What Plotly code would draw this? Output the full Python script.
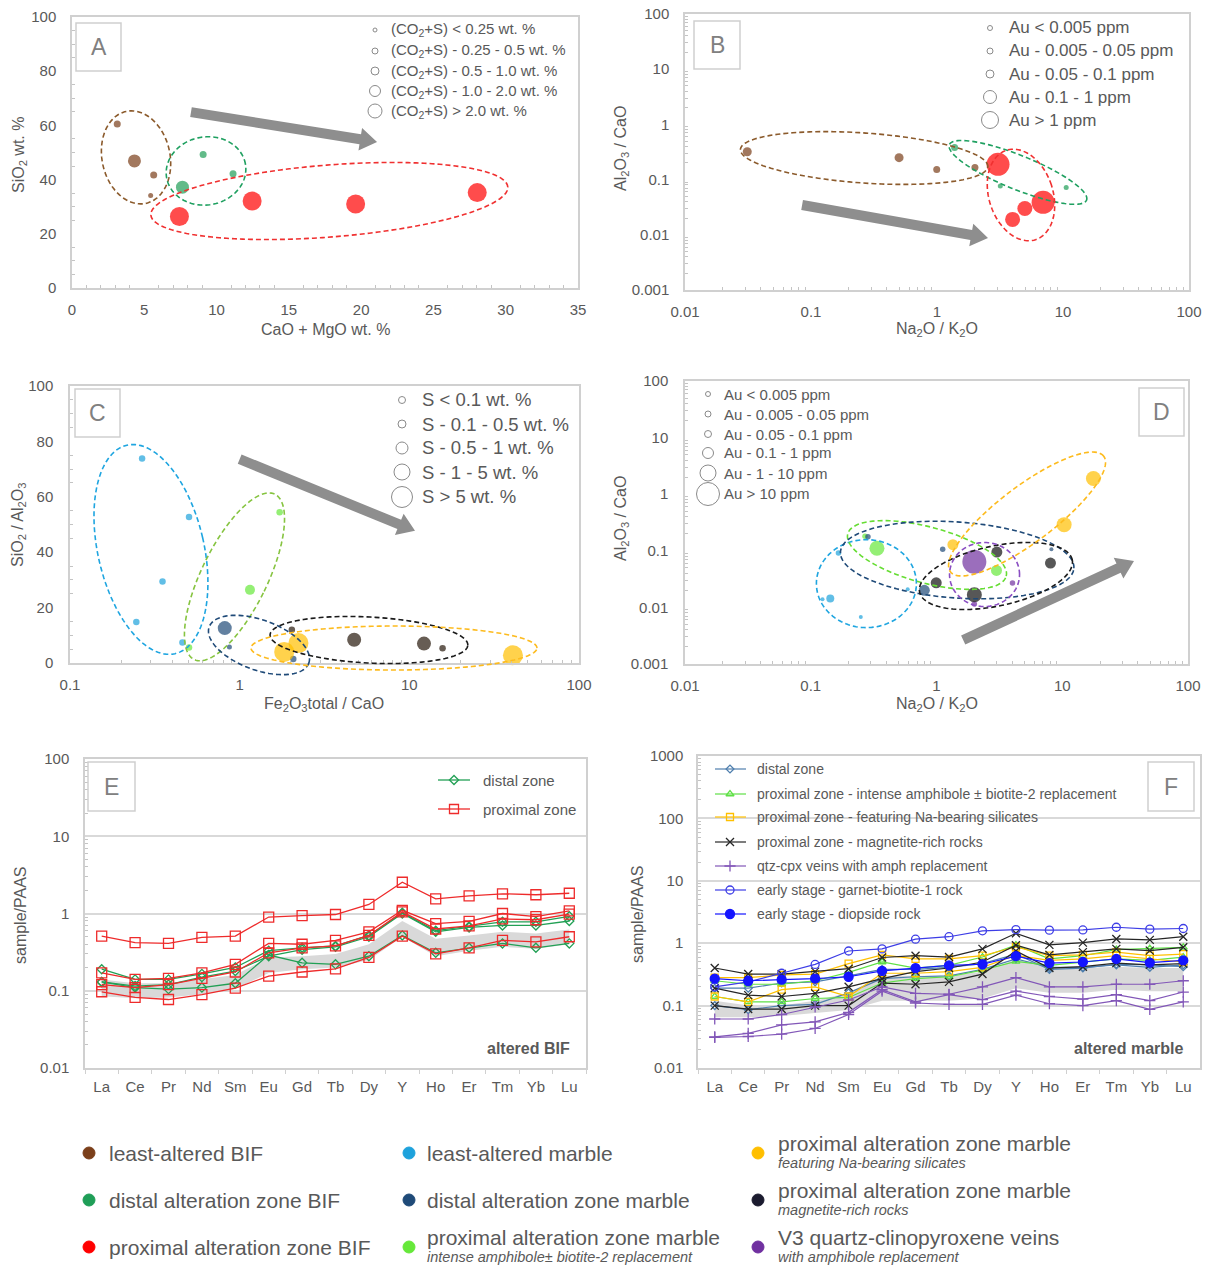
import math
import plotly.graph_objects as go

W, H = 1211, 1265
FONT = "Liberation Sans, Arial, sans-serif"
TXT = "#595959"
FRAME = "#d0d0d0"

# ---------------------------------------------------------------- data
REE = ["La", "Ce", "Pr", "Nd", "Sm", "Eu", "Gd", "Tb", "Dy", "Y", "Ho", "Er", "Tm", "Yb", "Lu"]

# A: CaO + MgO vs SiO2 (BIF); class = (CO2+S) bin 1..5
A_X = [3.13, 4.32, 5.65, 5.44, 9.07, 11.14, 7.64, 7.43, 12.46, 19.62, 28.03]
A_Y = [60.5, 46.9, 41.7, 34.1, 49.3, 42.2, 37.2, 26.4, 32.1, 31.0, 35.2]
A_CLASS = [2, 4, 2, 1, 2, 2, 4, 5, 5, 5, 5]
A_GROUP = ["lab", "lab", "lab", "lab", "dab", "dab", "dab", "pab", "pab", "pab", "pab"]

# B: Na2O/K2O vs Al2O3/CaO (BIF); class = Au bin 1..5
B_X = [0.0312, 0.50, 0.995, 2.0, 1.38, 3.18, 10.6, 3.05, 6.95, 4.98, 3.98]
B_Y = [0.32, 0.25, 0.153, 0.165, 0.38, 0.0766, 0.072, 0.189, 0.0387, 0.030, 0.019]
B_CLASS = [3, 3, 2, 2, 2, 1, 1, 5, 5, 4, 4]
B_GROUP = ["lab", "lab", "lab", "lab", "dab", "dab", "dab", "pab", "pab", "pab", "pab"]

# C: Fe2O3total/CaO vs SiO2/Al2O3 (marble); class = S bin 1..5
C_X = [0.266, 0.503, 0.351, 0.246, 0.46, 1.72, 1.15, 0.503, 0.817, 0.87, 2.07,
       1.83, 2.22, 40.8, 2.03, 4.73, 12.2, 15.7]
C_Y = [73.8, 52.7, 29.4, 14.8, 7.4, 54.4, 26.4, 5.6, 12.6, 5.8, 1.4,
       4.0, 7.2, 2.8, 12.0, 8.4, 7.0, 5.3]
C_CLASS = [2, 2, 2, 2, 2, 2, 3, 2, 4, 1, 2, 5, 5, 5, 2, 4, 4, 2]
C_GROUP = ["lam"] * 5 + ["pai"] * 3 + ["dam"] * 3 + ["pna"] * 3 + ["pmr"] * 4

# D: Na2O/K2O vs Al2O3/CaO (marble); class = Au bin 1..6
D_X = [0.143, 0.124, 0.166, 0.25, 0.59, 0.336, 3.0, 0.27, 0.285, 1.12, 0.8, 8.2,
       1.35, 10.35, 17.7, 2.0, 4.02, 2.0, 3.02, 8.06, 0.995, 2.0]
D_Y = [0.0144, 0.014, 0.091, 0.0068, 0.021, 0.111, 0.045, 0.18, 0.177, 0.107, 0.020, 0.107,
       0.128, 0.29, 1.89, 0.064, 0.027, 0.0115, 0.095, 0.0606, 0.0272, 0.0167]
D_CLASS = [3, 1, 2, 1, 1, 5, 4, 2, 2, 2, 4, 1, 4, 5, 5, 6, 2, 2, 4, 4, 4, 5]
D_GROUP = ["lam"] * 5 + ["pai"] * 3 + ["dam"] * 4 + ["pna"] * 3 + ["v3"] * 3 + ["pmr"] * 4

# E: PAAS-normalised REE+Y, altered BIF
E_PROXIMAL = [
    [0.51, 0.42, 0.41, 0.49, 0.51, 0.90, 0.94, 0.97, 1.31, 2.54, 1.55, 1.69, 1.80, 1.75, 1.83],
    [0.17, 0.14, 0.145, 0.17, 0.22, 0.41, 0.40, 0.45, 0.58, 1.10, 0.74, 0.79, 1.00, 0.91, 1.08],
    [0.12, 0.11, 0.12, 0.145, 0.175, 0.31, 0.36, 0.38, 0.52, 1.05, 0.63, 0.69, 0.85, 0.83, 0.98],
    [0.097, 0.082, 0.077, 0.089, 0.108, 0.155, 0.175, 0.192, 0.27, 0.51, 0.30, 0.36, 0.45, 0.43, 0.50],
]
E_DISTAL = [
    [0.19, 0.14, 0.14, 0.165, 0.20, 0.33, 0.36, 0.38, 0.52, 1.02, 0.60, 0.68, 0.78, 0.78, 0.92],
    [0.13, 0.11, 0.105, 0.11, 0.125, 0.29, 0.23, 0.22, 0.28, 0.52, 0.31, 0.36, 0.41, 0.36, 0.41],
    [0.13, 0.115, 0.12, 0.15, 0.18, 0.28, 0.34, 0.37, 0.50, 1.00, 0.58, 0.66, 0.70, 0.70, 0.80],
]
E_BAND_LO = [0.085, 0.08, 0.082, 0.09, 0.105, 0.17, 0.19, 0.2, 0.25, 0.50, 0.28, 0.33, 0.37, 0.35, 0.40]
E_BAND_HI = [0.14, 0.125, 0.125, 0.14, 0.16, 0.27, 0.28, 0.30, 0.40, 0.80, 0.47, 0.52, 0.58, 0.55, 0.62]

# F: PAAS-normalised REE+Y, altered marble
F_DISTAL = [
    [0.19, 0.19, 0.23, 0.24, 0.30, 0.38, 0.38, 0.41, 0.47, 0.67, 0.38, 0.40, 0.46, 0.45, 0.42],
    [0.10, 0.086, 0.10, 0.105, 0.16, 0.27, 0.29, 0.30, 0.38, 0.56, 0.41, 0.41, 0.45, 0.41, 0.45],
]
F_AMPH = [
    [0.25, 0.22, 0.22, 0.25, 0.34, 0.50, 0.40, 0.44, 0.60, 0.93, 0.56, 0.63, 0.79, 0.82, 0.86],
    [0.14, 0.115, 0.115, 0.13, 0.135, 0.23, 0.27, 0.29, 0.37, 0.51, 0.44, 0.50, 0.56, 0.53, 0.60],
]
F_NA = [
    [0.28, 0.28, 0.31, 0.32, 0.47, 0.65, 0.56, 0.56, 0.63, 0.87, 0.63, 0.65, 0.72, 0.63, 0.67],
    [0.14, 0.115, 0.18, 0.20, 0.14, 0.33, 0.33, 0.35, 0.41, 0.64, 0.53, 0.56, 0.63, 0.56, 0.50],
]
F_MAGNETITE = [
    [0.40, 0.32, 0.32, 0.35, 0.39, 0.59, 0.63, 0.60, 0.81, 1.44, 0.94, 1.02, 1.17, 1.13, 1.27],
    [0.19, 0.147, 0.14, 0.157, 0.20, 0.27, 0.35, 0.40, 0.50, 0.93, 0.65, 0.72, 0.81, 0.76, 0.86],
    [0.10, 0.088, 0.088, 0.10, 0.10, 0.23, 0.22, 0.24, 0.32, 0.75, 0.40, 0.42, 0.48, 0.45, 0.47],
]
F_VEINS = [
    [0.061, 0.061, 0.072, 0.095, 0.123, 0.20, 0.157, 0.152, 0.20, 0.28, 0.20, 0.20, 0.22, 0.22, 0.25],
    [0.0316, 0.036, 0.049, 0.055, 0.078, 0.18, 0.115, 0.15, 0.125, 0.17, 0.14, 0.127, 0.15, 0.12, 0.165],
    [0.031, 0.032, 0.035, 0.043, 0.072, 0.17, 0.11, 0.105, 0.105, 0.147, 0.107, 0.10, 0.12, 0.087, 0.115],
]
F_GARNET = [0.20, 0.24, 0.33, 0.457, 0.75, 0.81, 1.16, 1.27, 1.58, 1.65, 1.62, 1.63, 1.80, 1.68, 1.72]
F_DIOPSIDE = [0.27, 0.25, 0.26, 0.27, 0.29, 0.36, 0.40, 0.44, 0.46, 0.62, 0.48, 0.50, 0.56, 0.49, 0.53]
F_BAND_LO = [0.065, 0.065, 0.068, 0.075, 0.085, 0.12, 0.12, 0.12, 0.13, 0.19, 0.16, 0.16, 0.18, 0.17, 0.17]
F_BAND_HI = [0.12, 0.10, 0.10, 0.12, 0.16, 0.30, 0.30, 0.30, 0.35, 0.55, 0.40, 0.40, 0.42, 0.40, 0.40]

# size-class legends
A_SIZE_LABELS = ["(CO<sub>2</sub>+S) &lt; 0.25 wt. %", "(CO<sub>2</sub>+S) - 0.25 - 0.5 wt. %",
                 "(CO<sub>2</sub>+S) - 0.5 - 1.0 wt. %", "(CO<sub>2</sub>+S) - 1.0 - 2.0 wt. %",
                 "(CO<sub>2</sub>+S) &gt; 2.0 wt. %"]
B_SIZE_LABELS = ["Au &lt; 0.005 ppm", "Au - 0.005 - 0.05 ppm", "Au - 0.05 - 0.1 ppm",
                 "Au - 0.1 - 1 ppm", "Au &gt; 1 ppm"]
C_SIZE_LABELS = ["S &lt; 0.1 wt. %", "S - 0.1 - 0.5 wt. %", "S - 0.5 - 1 wt. %",
                 "S - 1 - 5 wt. %", "S &gt; 5 wt. %"]
D_SIZE_LABELS = ["Au &lt; 0.005 ppm", "Au - 0.005 - 0.05 ppm", "Au - 0.05 - 0.1 ppm",
                 "Au - 0.1 - 1 ppm", "Au - 1 - 10 ppm", "Au &gt; 10 ppm"]

GROUP_NAME = {
    "lab": ("least-altered BIF", ""),
    "dab": ("distal alteration zone BIF", ""),
    "pab": ("proximal alteration zone BIF", ""),
    "lam": ("least-altered marble", ""),
    "dam": ("distal alteration zone marble", ""),
    "pai": ("proximal alteration zone marble", "intense amphibole\u00b1 biotite-2 replacement"),
    "pna": ("proximal alteration zone marble", "featuring Na-bearing silicates"),
    "pmr": ("proximal alteration zone marble", "magnetite-rich rocks"),
    "v3": ("V3 quartz-clinopyroxene veins", "with amphibole replacement"),
}

# ---------------------------------------------------------------- styles
COLOR = {
    "lab": "#7b3f1a", "dab": "#1f9e57", "pab": "#ff0000",
    "lam": "#1ea2dc", "dam": "#1f4a78", "pai": "#66e83a",
    "pna": "#ffbf00", "pmr": "#1b1b2f", "v3": "#7030a0",
}
C_PMR_COLOR = "#26180c"
SIZE_A = {1: 5, 2: 7, 3: 10, 4: 13, 5: 19}
SIZE_B = {1: 5, 2: 7, 3: 9, 4: 15, 5: 23}
SIZE_C = {1: 5, 2: 6.5, 3: 10, 4: 14, 5: 20}
SIZE_D = {1: 4, 2: 5.5, 3: 8, 4: 11, 5: 15, 6: 24}

BOX = {
    "A": (72, 17, 578, 288),
    "B": (685, 14, 1189, 290),
    "C": (70, 386, 579, 663),
    "D": (685, 381, 1188, 664),
    "E": (85, 759, 586, 1068),
    "F": (698, 756, 1200, 1068),
}
AX = {"A": ("x", "y"), "B": ("x2", "y2"), "C": ("x3", "y3"),
      "D": ("x4", "y4"), "E": ("x5", "y5"), "F": ("x6", "y6")}
XR = {"A": (0, 35), "B": (-2, 2), "C": (-1, 2), "D": (-2, 2)}
YR = {"A": (0, 100), "B": (-3, 2), "C": (0, 100), "D": (-3, 2)}
XLOG = {"A": False, "B": True, "C": True, "D": True}
YLOG = {"A": False, "B": True, "C": False, "D": True}


def px(p, x, y):
    """Data coordinates of panel p -> figure pixels."""
    L, T, R, B = BOX[p]
    xv = math.log10(x) if XLOG[p] else x
    yv = math.log10(y) if YLOG[p] else y
    x0, x1 = XR[p]
    y0, y1 = YR[p]
    return L + (xv - x0) / (x1 - x0) * (R - L), B - (yv - y0) / (y1 - y0) * (B - T)


def pap(x, y):
    return x / W, 1 - y / H


def domain(p):
    L, T, R, B = BOX[p]
    return [L / W, R / W], [1 - B / H, 1 - T / H]


fig = go.Figure()
shapes = []
annotations = []


def text(x, y, s, size, color=TXT, xanchor="left", yanchor="middle", angle=0, **font):
    xp, yp = pap(x, y)
    annotations.append(dict(x=xp, y=yp, xref="paper", yref="paper", text=s, showarrow=False,
                            xanchor=xanchor, yanchor=yanchor, textangle=angle,
                            font=dict(family=FONT, size=size, color=color, **font)))


def ellipse(p, center, rx, ry, rot, color):
    cx, cy = px(p, *center)
    a = math.radians(rot)
    pts = []
    for i in range(120):
        t = 2 * math.pi * i / 120
        ex, ey = rx * math.cos(t), ry * math.sin(t)
        X = cx + ex * math.cos(a) - ey * math.sin(a)
        Y = cy - (ex * math.sin(a) + ey * math.cos(a))
        pts.append(pap(X, Y))
    path = "M " + " L ".join(f"{u:.5f},{v:.5f}" for u, v in pts) + " Z"
    shapes.append(dict(type="path", path=path, xref="paper", yref="paper", layer="above",
                       line=dict(color=color, width=1.6, dash="5px,3px")))


def arrow(p, start, end, color="#8e8e8e"):
    sx, sy = px(p, *start)
    ex, ey = px(p, *end)
    L = math.hypot(ex - sx, ey - sy)
    ux, uy = (ex - sx) / L, (ey - sy) / L
    nx, ny = -uy, ux
    w, hw, hl = 5, 11.5, 17
    hx, hy = ex - ux * hl, ey - uy * hl
    poly = [(sx + nx * w, sy + ny * w), (hx + nx * w, hy + ny * w), (hx + nx * hw, hy + ny * hw),
            (ex, ey), (hx - nx * hw, hy - ny * hw), (hx - nx * w, hy - ny * w),
            (sx - nx * w, sy - ny * w)]
    path = "M " + " L ".join("{:.5f},{:.5f}".format(*pap(a, b)) for a, b in poly) + " Z"
    shapes.append(dict(type="path", path=path, xref="paper", yref="paper", layer="above",
                       fillcolor=color, line=dict(width=0)))


def panel_tag(x0, y0, x1, y1, letter):
    a, b = pap(x0, y0)
    c, d = pap(x1, y1)
    shapes.append(dict(type="rect", x0=a, y0=b, x1=c, y1=d, xref="paper", yref="paper",
                       layer="above", fillcolor="white", line=dict(color="#cfcfcf", width=1.5)))
    text((x0 + x1) / 2, (y0 + y1) / 2, letter, 23, color="#808080", xanchor="center")


def scatter_panel(p, xs, ys, classes, groups, sizes, order, override=None):
    xa, ya = AX[p]
    for g in order:
        idx = [i for i, gg in enumerate(groups) if gg == g]
        col = (override or {}).get(g, COLOR[g])
        fig.add_trace(go.Scatter(
            x=[xs[i] for i in idx], y=[ys[i] for i in idx], mode="markers",
            marker=dict(size=[sizes[classes[i]] for i in idx], color=col, line=dict(width=0)),
            xaxis=xa, yaxis=ya, cliponaxis=False, showlegend=False,
            name=GROUP_NAME[g][0], hoverinfo="x+y+name"))


def overlay_marker(x, y, symbol, size, color, fill=None, lw=1.0):
    fig.add_trace(go.Scatter(
        x=[x], y=[y], mode="markers", xaxis="x7", yaxis="y7", cliponaxis=False,
        showlegend=False, hoverinfo="skip",
        marker=dict(symbol=symbol, size=size, color=fill or color,
                    line=dict(color=color, width=lw))))


def overlay_line(x0, x1, y, color, width=1.3):
    fig.add_trace(go.Scatter(x=[x0, x1], y=[y, y], mode="lines", xaxis="x7", yaxis="y7",
                             showlegend=False, hoverinfo="skip",
                             line=dict(color=color, width=width)))


def size_legend(cx, tx, rows, sizes, labels, fsize):
    for y, s, lab in zip(rows, sizes, labels):
        overlay_marker(cx, y, "circle-open", s, "#8a8a8a", lw=1)
        text(tx, y, lab, fsize)


# ---------------------------------------------------------------- panels A-D
scatter_panel("A", A_X, A_Y, A_CLASS, A_GROUP, SIZE_A, ["lab", "dab", "pab"])
scatter_panel("B", B_X, B_Y, B_CLASS, B_GROUP, SIZE_B, ["lab", "dab", "pab"])
scatter_panel("C", C_X, C_Y, C_CLASS, C_GROUP, SIZE_C, ["lam", "pai", "dam", "pna", "pmr"],
              override={"pmr": C_PMR_COLOR})
scatter_panel("D", D_X, D_Y, D_CLASS, D_GROUP, SIZE_D, ["lam", "pai", "dam", "pna", "v3", "pmr"],
              override={"pmr": "#101010"})

# group envelopes: (centre in data units, semi-axes in px, rotation deg, colour)
ENV_BROWN, ENV_GREEN, ENV_RED = "#8b5a2b", "#1fa060", "#f03030"
ENV_BLUE, ENV_NAVY, ENV_BLACK = "#1ea5e0", "#1f4a78", "#1a1a1a"
ENV_ORANGE, ENV_PURPLE = "#fdbb1e", "#8a4ec2"
for c, rx, ry, rot, col in [((4.43, 48.2), 34, 47, 12, ENV_BROWN),
                            ((9.27, 43.2), 40, 34, 10, ENV_GREEN),
                            ((17.8, 32.1), 179, 36, 4.5, ENV_RED)]:
    ellipse("A", c, rx, ry, rot, col)
for c, rx, ry, rot, col in [((0.264, 0.246), 124, 25, -4, ENV_BROWN),
                            ((4.39, 0.135), 74, 17, -22, ENV_GREEN),
                            ((4.64, 0.0526), 32, 47, 18, ENV_RED)]:
    ellipse("B", c, rx, ry, rot, col)
for c, rx, ry, rot, col in [((0.30, 41.0), 53, 107, 13, ENV_BLUE),
                            ((0.932, 31.1), 33, 92, -26, "#86c440"),
                            ((1.30, 6.5), 53, 25, -20, ENV_NAVY),
                            ((5.78, 8.3), 99, 23, -3, ENV_BLACK),
                            ((8.12, 5.4), 143, 22, 0, ENV_ORANGE)]:
    ellipse("C", c, rx, ry, rot, col)
for c, rx, ry, rot, col in [((0.277, 0.0263), 50, 44, 0, ENV_BLUE),
                            ((0.84, 0.0843), 82, 28, -15, "#66dd33"),
                            ((1.46, 0.0687), 117, 38, -4, ENV_NAVY),
                            ((2.97, 0.0359), 78, 30, 12, ENV_BLACK),
                            ((2.41, 0.0381), 35, 32, 0, ENV_PURPLE),
                            ((5.25, 0.447), 96, 28, 37, ENV_ORANGE)]:
    ellipse("D", c, rx, ry, rot, col)

# alteration-trend arrows
arrow("A", (8.23, 64.9), (21.1, 53.9))
arrow("B", (0.085, 0.0347), (2.54, 0.00875))
arrow("C", (1.0, 73.6), (10.8, 47.7))
arrow("D", (1.63, 0.00265), (37.2, 0.066))

panel_tag(76, 23, 121, 71, "A")
panel_tag(694, 21, 740, 69, "B")
panel_tag(75, 389, 120, 437, "C")
panel_tag(1139, 388, 1184, 436, "D")
panel_tag(88, 762, 135, 811, "E")
panel_tag(1148, 762, 1194, 811, "F")

size_legend(375, 389, [30, 51, 71, 91, 111], [4, 6, 8, 11, 14], A_SIZE_LABELS, 15)
size_legend(990, 1007, [28, 51, 74, 97, 120], [5, 6, 8, 13, 17], B_SIZE_LABELS, 17)
size_legend(402, 420, [400, 424, 448, 472, 497], [7, 8, 12, 16, 21], C_SIZE_LABELS, 18.5)
size_legend(708, 722, [394, 414, 434, 453, 473, 494], [5, 6, 7, 11, 16, 23], D_SIZE_LABELS, 15)

# ---------------------------------------------------------------- panels E-F (spider plots)
def band(p, lo, hi):
    xa, ya = AX[p]
    fig.add_trace(go.Scatter(x=REE, y=lo, mode="lines", line=dict(width=0), xaxis=xa, yaxis=ya,
                             showlegend=False, hoverinfo="skip"))
    fig.add_trace(go.Scatter(x=REE, y=hi, mode="lines", line=dict(width=0), fill="tonexty",
                             fillcolor="#d9d9d9", xaxis=xa, yaxis=ya, showlegend=False,
                             hoverinfo="skip"))


def spider(p, series, color, symbol, size, name, fill=None, lw=1.3):
    xa, ya = AX[p]
    for s in series:
        fig.add_trace(go.Scatter(
            x=REE, y=s, mode="lines+markers", xaxis=xa, yaxis=ya, name=name, showlegend=False,
            cliponaxis=False, line=dict(color=color, width=lw),
            marker=dict(symbol=symbol, size=size, color=fill or color,
                        line=dict(color=color, width=1.3))))


band("E", E_BAND_LO, E_BAND_HI)
spider("E", E_DISTAL, "#22a055", "diamond-open", 7, "distal zone")
spider("E", E_PROXIMAL, "#ee2b2b", "square-open", 10, "proximal zone")

F_STYLE = [
    (F_DISTAL, "#4f7fae", "diamond-open", 6, None, "distal zone"),
    (F_AMPH, "#5fe046", "triangle-up-open", 7, None,
     "proximal zone - intense amphibole \u00b1 biotite-2 replacement"),
    (F_NA, "#ffc000", "square-open", 7, None, "proximal zone - featuring Na-bearing silicates"),
    (F_MAGNETITE, "#262626", "x-thin-open", 8, None, "proximal zone - magnetite-rich rocks"),
    (F_VEINS, "#8257b8", "cross-thin-open", 8, None, "qtz-cpx veins with amph replacement"),
    ([F_GARNET], "#3d3de6", "circle-open", 8, None, "early stage - garnet-biotite-1 rock"),
    ([F_DIOPSIDE], "#1414ff", "circle", 9, "#1414ff", "early stage - diopside rock"),
]
band("F", F_BAND_LO, F_BAND_HI)
for series, col, sym, sz, fill, name in F_STYLE:
    spider("F", series, col, sym, sz, name, fill=fill, lw=1.2)

# legends of the spider plots
for y, col, sym, sz, lab in [(780, "#22a055", "diamond-open", 7, "distal zone"),
                             (809, "#ee2b2b", "square-open", 9, "proximal zone")]:
    overlay_line(438, 470, y, col)
    overlay_marker(454, y, sym, sz, col, lw=1.3)
    text(481, y, lab, 15)

for y, (series, col, sym, sz, fill, name) in zip([769, 794, 817, 842, 866, 890, 914], F_STYLE):
    overlay_line(715, 746, y, col, 1.2)
    overlay_marker(730, y, sym, sz, col, fill=fill, lw=1.3)
    text(755, y, name, 14)

text(572, 1048, "<b>altered BIF</b>", 16, xanchor="right")
text(1185, 1048, "<b>altered marble</b>", 16, xanchor="right")

# ---------------------------------------------------------------- axis titles
text(20, 155, "SiO<sub>2</sub> wt. %", 16, xanchor="center", angle=-90)
text(325, 329, "CaO + MgO wt. %", 16, xanchor="center")
text(622, 149, "Al<sub>2</sub>O<sub>3</sub> / CaO", 16, xanchor="center", angle=-90)
text(937, 329, "Na<sub>2</sub>O / K<sub>2</sub>O", 16, xanchor="center")
text(18, 525, "SiO<sub>2</sub> / Al<sub>2</sub>O<sub>3</sub>", 16, xanchor="center", angle=-90)
text(324, 704, "Fe<sub>2</sub>O<sub>3</sub>total / CaO", 16, xanchor="center")
text(621, 519, "Al<sub>2</sub>O<sub>3</sub> / CaO", 16, xanchor="center", angle=-90)
text(937, 704, "Na<sub>2</sub>O / K<sub>2</sub>O", 16, xanchor="center")
text(20, 915, "sample/PAAS", 16, xanchor="center", angle=-90)
text(637, 914, "sample/PAAS", 16, xanchor="center", angle=-90)

# ---------------------------------------------------------------- shared group legend
LEG_COLS = [89, 409, 758]
LEG_TEXT_X = [107, 425, 776]
LEG_ROWS = [1153, 1200, 1247]
LEG_LAYOUT = [["lab", "dab", "pab"], ["lam", "dam", "pai"], ["pna", "pmr", "v3"]]
for ci, col_groups in enumerate(LEG_LAYOUT):
    for ri, g in enumerate(col_groups):
        y = LEG_ROWS[ri]
        overlay_marker(LEG_COLS[ci], y, "circle", 12, COLOR[g])
        main, sub = GROUP_NAME[g]
        if sub:
            text(LEG_TEXT_X[ci], y - 10, main, 21)
            text(LEG_TEXT_X[ci], y + 10, f"<i>{sub}</i>", 14.5)
        else:
            text(LEG_TEXT_X[ci], y, main, 21)

# ---------------------------------------------------------------- axes
TICKFONT = dict(family=FONT, size=15, color=TXT)


def base_axis(dom, anchor, **kw):
    d = dict(domain=dom, anchor=anchor, showline=True, mirror=True, linecolor=FRAME,
             linewidth=1.5, zeroline=False, showgrid=False, ticks="", tickfont=TICKFONT,
             fixedrange=True, automargin=False)
    d.update(kw)
    return d


def log_axis(lo, hi, dom, anchor, **kw):
    vals = [10.0 ** e for e in range(lo, hi + 1)]
    minor = [k * 10.0 ** e for e in range(lo, hi) for k in range(2, 10)]
    return base_axis(dom, anchor, type="log", range=[lo, hi], tickmode="array", tickvals=vals,
                     ticktext=[f"{v:g}" for v in vals],
                     minor=dict(tickmode="array", tickvals=minor, ticks="inside", ticklen=3,
                                tickcolor="#c4c4c4"), **kw)


def lin_minor(d):
    return dict(dtick=d, ticks="inside", ticklen=3, tickcolor="#c4c4c4")


xd, yd = domain("A")
xaxis = base_axis(xd, "y", range=[0, 35], dtick=5, tick0=0, minor=lin_minor(1), ticklabelstandoff=7)
yaxis = base_axis(yd, "x", range=[0, 100], dtick=20, tick0=0, minor=lin_minor(5), ticklabelstandoff=11)
xd, yd = domain("B")
xaxis2 = log_axis(-2, 2, xd, "y2", ticklabelstandoff=7)
yaxis2 = log_axis(-3, 2, yd, "x2", ticklabelstandoff=11)
xd, yd = domain("C")
xaxis3 = log_axis(-1, 2, xd, "y3", ticklabelstandoff=7)
yaxis3 = base_axis(yd, "x3", range=[0, 100], dtick=20, tick0=0, minor=lin_minor(5), ticklabelstandoff=12)
xd, yd = domain("D")
xaxis4 = log_axis(-2, 2, xd, "y4", ticklabelstandoff=7)
yaxis4 = log_axis(-3, 2, yd, "x4", ticklabelstandoff=12)
xd, yd = domain("E")
xaxis5 = base_axis(xd, "y5", type="category", categoryorder="array", categoryarray=REE,
                   range=[-0.5, 14.5], ticks="outside", tickson="boundaries", ticklen=4,
                   tickcolor=FRAME, ticklabelstandoff=4)
yaxis5 = log_axis(-2, 2, yd, "x5", showgrid=True, gridcolor="#d9d9d9", gridwidth=1.5,
                  ticklabelstandoff=11)
xd, yd = domain("F")
xaxis6 = base_axis(xd, "y6", type="category", categoryorder="array", categoryarray=REE,
                   range=[-0.5, 14.5], ticks="outside", tickson="boundaries", ticklen=4,
                   tickcolor=FRAME, ticklabelstandoff=4)
yaxis6 = log_axis(-2, 3, yd, "x6", showgrid=True, gridcolor="#d9d9d9", gridwidth=1.5,
                  ticklabelstandoff=10)

# full-figure pixel frame used for legend keys
xaxis7 = dict(domain=[0, 1], range=[0, W], visible=False, anchor="y7", fixedrange=True,
              automargin=False)
yaxis7 = dict(domain=[0, 1], range=[H, 0], visible=False, anchor="x7", fixedrange=True,
              automargin=False)

fig.update_layout(
    width=W, height=H, margin=dict(l=0, r=0, t=0, b=0, autoexpand=False),
    paper_bgcolor="white", plot_bgcolor="rgba(0,0,0,0)",
    font=dict(family=FONT, color=TXT), showlegend=False,
    xaxis=xaxis, yaxis=yaxis, xaxis2=xaxis2, yaxis2=yaxis2, xaxis3=xaxis3, yaxis3=yaxis3,
    xaxis4=xaxis4, yaxis4=yaxis4, xaxis5=xaxis5, yaxis5=yaxis5, xaxis6=xaxis6, yaxis6=yaxis6,
    xaxis7=xaxis7, yaxis7=yaxis7,
    shapes=shapes, annotations=annotations,
)

fig.write_html("out.html")
